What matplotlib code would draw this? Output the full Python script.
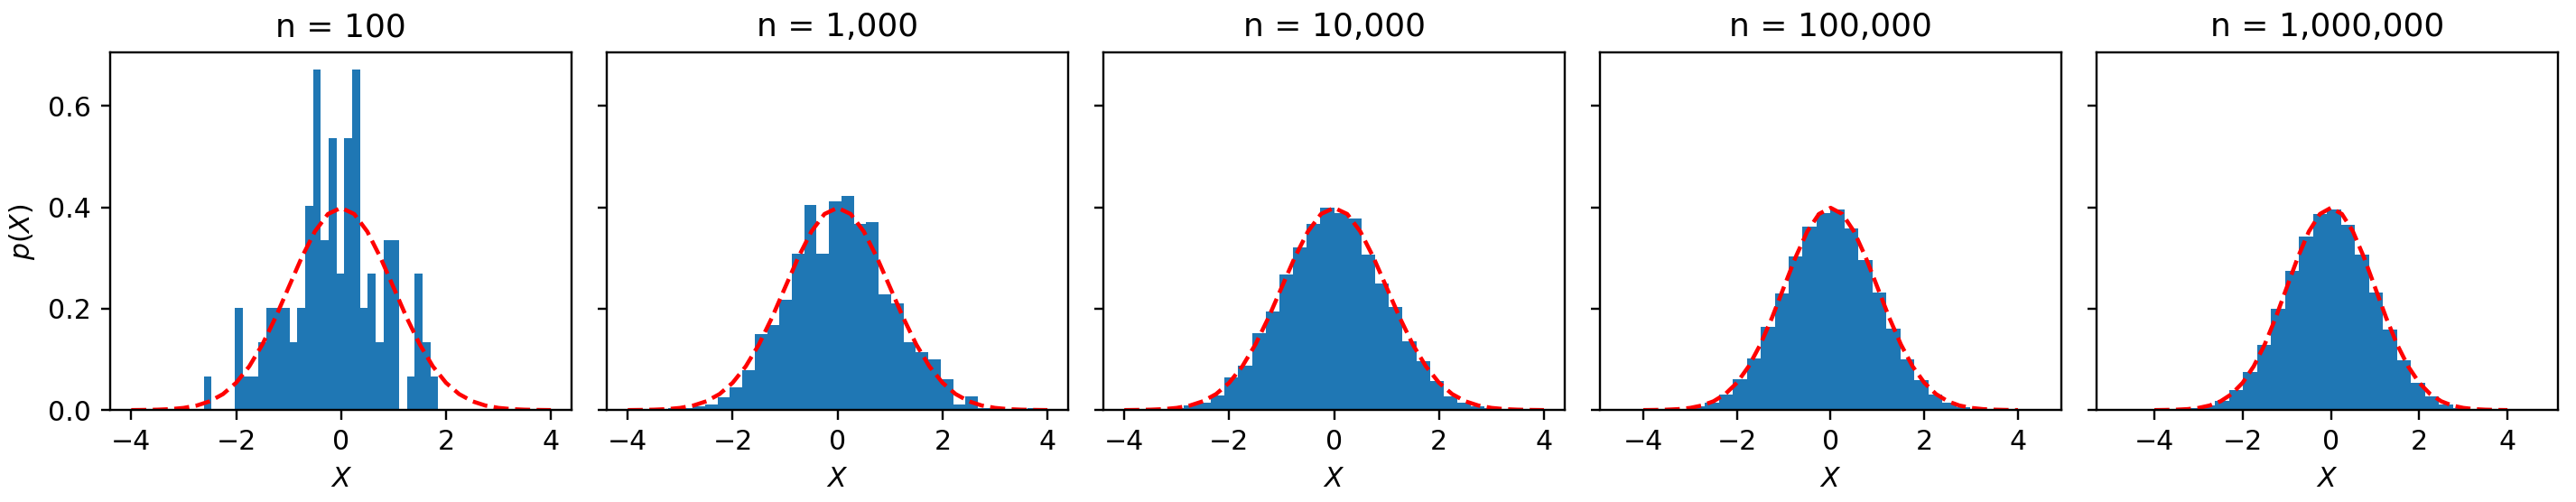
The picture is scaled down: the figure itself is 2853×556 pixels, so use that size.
import numpy as np
import matplotlib
matplotlib.use("Agg")
import matplotlib.pyplot as plt
from matplotlib.ticker import MultipleLocator

# sample sizes shown in the panel titles
SAMPLE_SIZES = [100, 1000, 10000, 100000, 1000000]

# histogram range (low, high) of each panel, 30 bins each
HIST_RANGES = [
    (-2.62, 1.85),
    (-3.237, 3.858),
    (-3.915, 3.915),
    (-4.48, 4.48),
    (-4.84, 4.67),
]

# n = 100: raw counts per bin (converted to density below)
COUNTS_100 = [1, 0, 0, 0, 3, 1, 1, 2, 3, 3, 3, 2, 3, 6, 10,
              5, 8, 4, 8, 10, 3, 4, 2, 5, 5, 0, 1, 4, 2, 1]

DENS_1K = [0.004, 0.004, 0.008, 0.012, 0.0245, 0.045, 0.079, 0.150, 0.168, 0.218,
           0.309, 0.405, 0.309, 0.411, 0.423, 0.368, 0.371, 0.228, 0.211, 0.134,
           0.1135, 0.100, 0.061, 0.012, 0.027, 0.004, 0.004, 0.0, 0.0, 0.004]

DENS_10K = [0.0003, 0.0008, 0.002, 0.0044, 0.0093, 0.0155, 0.0297, 0.0648, 0.088, 0.152,
            0.195, 0.268, 0.3215, 0.368, 0.400, 0.389, 0.377, 0.307, 0.250, 0.204,
            0.136, 0.097, 0.0577, 0.028, 0.0155, 0.008, 0.0044, 0.002, 0.0008, 0.0003]

DENS_100K = [0.00003, 0.0001, 0.0004, 0.0011, 0.0029, 0.007, 0.0149, 0.0315, 0.0612, 0.1016,
             0.164, 0.230, 0.303, 0.361, 0.389, 0.396, 0.359, 0.296, 0.232, 0.161,
             0.0998, 0.0594, 0.0315, 0.0149, 0.006, 0.0018, 0.0006, 0.0002, 0.00006, 0.00003]

DENS_1M = [0.00001, 0.00003, 0.0001, 0.0004, 0.0012, 0.0033, 0.009, 0.0184, 0.039, 0.076,
           0.128, 0.199, 0.275, 0.342, 0.386, 0.396, 0.366, 0.307, 0.232, 0.159,
           0.0987, 0.054, 0.028, 0.0113, 0.0045, 0.0021, 0.0007, 0.0002, 0.00006, 0.00002]

# reference density curve
CURVE_X = [-4.0, -3.75, -3.5, -3.25, -3.0, -2.75, -2.5, -2.25, -2.0, -1.75, -1.5,
           -1.25, -1.0, -0.75, -0.5, -0.25, 0.0, 0.25, 0.5, 0.75, 1.0, 1.25,
           1.5, 1.75, 2.0, 2.25, 2.5, 2.75, 3.0, 3.25, 3.5, 3.75, 4.0]
CURVE_Y = [0.0001, 0.0004, 0.0009, 0.0020, 0.0044, 0.0091, 0.0175, 0.0317, 0.0540,
           0.0863, 0.1295, 0.1826, 0.2420, 0.3011, 0.3521, 0.3867, 0.3989, 0.3867,
           0.3521, 0.3011, 0.2420, 0.1826, 0.1295, 0.0863, 0.0540, 0.0317, 0.0175,
           0.0091, 0.0044, 0.0020, 0.0009, 0.0004, 0.0001]

N_BINS = 30
DPI = 216


def density_100():
    lo, hi = HIST_RANGES[0]
    width = (hi - lo) / N_BINS
    return [c / (SAMPLE_SIZES[0] * width) for c in COUNTS_100]


def main():
    densities = [density_100(), DENS_1K, DENS_10K, DENS_100K, DENS_1M]

    fig, axes = plt.subplots(1, 5, figsize=(2853 / DPI, 556 / DPI), dpi=DPI, sharey=True)
    for ax, n, (lo, hi), dens in zip(axes, SAMPLE_SIZES, HIST_RANGES, densities):
        edges = np.linspace(lo, hi, N_BINS + 1)
        ax.hist(edges[:-1], bins=edges, weights=dens, color="C0")
        ax.plot(CURVE_X, CURVE_Y, "r--")
        ax.set_title(f"n = {n:,}")
        ax.set_xlabel("$X$")
        ax.xaxis.set_major_locator(MultipleLocator(2))
    axes[0].set_ylabel("$p(X)$")

    fig.subplots_adjust(left=0.0428, right=0.993, bottom=0.183, top=0.895, wspace=0.0756)
    fig.savefig("out.png", dpi=DPI)


if __name__ == "__main__":
    main()
